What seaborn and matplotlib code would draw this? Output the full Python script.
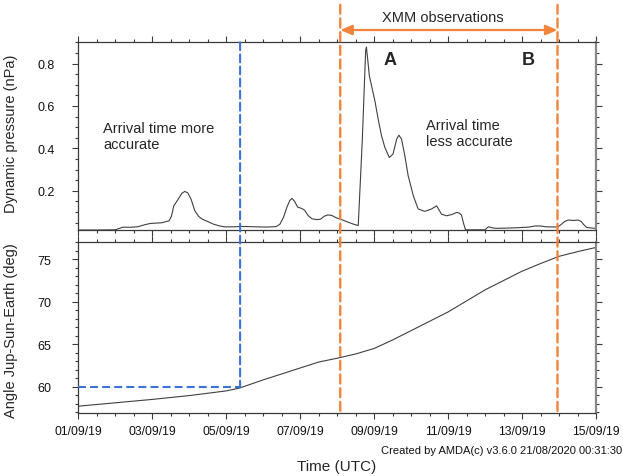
import numpy as np
import pandas as pd
import matplotlib
matplotlib.use("Agg")
import matplotlib.pyplot as plt
import matplotlib.dates as mdates
from matplotlib.patches import ConnectionPatch
import seaborn as sns

# ---------------- data ----------------
start_date = "2019-09-01"
end_date = "2019-09-15"

# dynamic pressure (days since start, nPa)
pdyn_days = [0.00, 0.50, 1.00, 1.10, 1.20, 1.40, 1.60, 1.80, 1.95, 2.25, 2.45, 2.52, 2.58, 2.70,
             2.80, 2.88, 2.96, 3.05, 3.15, 3.25, 3.35, 3.50, 3.65, 3.80, 3.95, 4.20, 4.40, 4.80,
             5.10, 5.35, 5.45, 5.55, 5.64, 5.72, 5.78, 5.85, 5.93, 6.05, 6.12, 6.22, 6.32, 6.45,
             6.55, 6.65, 6.75, 6.85, 6.98, 7.09, 7.25, 7.45, 7.57, 7.68, 7.77, 7.79, 7.82, 7.87,
             7.93, 8.02, 8.11, 8.20, 8.29, 8.41, 8.51, 8.61, 8.67, 8.74, 8.83, 8.92, 9.06, 9.19,
             9.37, 9.55, 9.69, 9.82, 9.96, 10.10, 10.23, 10.30, 10.36, 10.42, 10.47, 11.00, 11.05,
             11.10, 11.20, 11.30, 11.60, 11.90, 12.20, 12.35, 12.50, 12.65, 12.96, 13.05, 13.15,
             13.25, 13.40, 13.52, 13.60, 13.68, 13.75, 13.90, 14.00]
pdyn_vals = [0.015, 0.015, 0.016, 0.022, 0.028, 0.028, 0.030, 0.040, 0.046, 0.049, 0.058, 0.080,
             0.128, 0.160, 0.188, 0.197, 0.190, 0.160, 0.106, 0.080, 0.066, 0.055, 0.043, 0.035,
             0.030, 0.030, 0.032, 0.030, 0.029, 0.031, 0.042, 0.075, 0.122, 0.155, 0.164, 0.150,
             0.123, 0.116, 0.108, 0.082, 0.068, 0.064, 0.066, 0.080, 0.086, 0.084, 0.072, 0.066,
             0.055, 0.042, 0.036, 0.440, 0.860, 0.878, 0.830, 0.742, 0.695, 0.624, 0.537, 0.459,
             0.404, 0.357, 0.373, 0.444, 0.462, 0.444, 0.365, 0.271, 0.176, 0.114, 0.103, 0.114,
             0.129, 0.090, 0.082, 0.088, 0.098, 0.095, 0.086, 0.045, 0.016, 0.016, 0.025, 0.030,
             0.025, 0.023, 0.024, 0.026, 0.029, 0.034, 0.034, 0.030, 0.029, 0.040, 0.055, 0.062,
             0.060, 0.062, 0.055, 0.038, 0.027, 0.024, 0.023]

# Jupiter-Sun-Earth angle (days since start, deg)
angle_days = [0, 1, 2, 3, 4, 4.37, 5, 5.5, 6, 6.5, 7, 7.5, 8, 8.5, 9, 9.5, 10, 10.5, 11, 11.5,
              12, 12.5, 13, 13.5, 14]
angle_vals = [57.7, 58.1, 58.5, 58.95, 59.5, 59.85, 60.8, 61.5, 62.2, 62.9, 63.35, 63.85, 64.5,
              65.5, 66.6, 67.7, 68.8, 70.1, 71.4, 72.5, 73.6, 74.5, 75.35, 75.9, 76.4]

# annotation markers
blue_time = "2019-09-05 09:00"
blue_angle = 60
xmm_start = "2019-09-08 02:00"
xmm_end = "2019-09-13 23:00"

pdyn_ticks = [0.2, 0.4, 0.6, 0.8]
angle_ticks = [60, 65, 70, 75]

# ---------------- frames ----------------
t0 = pd.Timestamp(start_date)
df_p = pd.DataFrame({"time": t0 + pd.to_timedelta(pdyn_days, unit="D"), "pdyn": pdyn_vals})
df_a = pd.DataFrame({"time": t0 + pd.to_timedelta(angle_days, unit="D"), "angle": angle_vals})

sns.set_style("ticks")
plt.rcParams["font.family"] = ["Liberation Sans", "DejaVu Sans"]

BLUE = "#3D72D9"
ORANGE = "#F0843A"
LINE = "#404040"
SPINE = "#3a3a3a"

fig = plt.figure(figsize=(6.23, 4.77), dpi=100)
ax1 = fig.add_axes([0.1257, 0.5157, 0.831, 0.3935])
ax2 = fig.add_axes([0.1257, 0.1321, 0.831, 0.3578], sharex=ax1)

sns.lineplot(data=df_p, x="time", y="pdyn", ax=ax1, color=LINE, linewidth=0.8)
sns.lineplot(data=df_a, x="time", y="angle", ax=ax2, color=LINE, linewidth=0.8)

ax1.set_xlim(pd.Timestamp(start_date), pd.Timestamp(end_date))
ax1.set_ylim(0.015, 0.9)
ax2.set_ylim(56.9, 77.0)

ax1.set_yticks(pdyn_ticks)
ax1.set_yticklabels([f"{v:.1f}" for v in pdyn_ticks])
ax1.yaxis.set_minor_locator(matplotlib.ticker.MultipleLocator(0.05))
ax2.set_yticks(angle_ticks)
ax2.set_yticklabels([str(v) for v in angle_ticks])
ax2.yaxis.set_minor_locator(matplotlib.ticker.MultipleLocator(1))

ax2.xaxis.set_major_locator(mdates.DayLocator(interval=2, bymonthday=range(1, 32, 2)))
ax2.xaxis.set_minor_locator(mdates.HourLocator(byhour=[0, 12]))
ax2.xaxis.set_major_formatter(mdates.DateFormatter("%d/%m/%y"))

for ax in (ax1, ax2):
    for s in ax.spines.values():
        s.set_color(SPINE)
        s.set_linewidth(0.9)
    ax.spines["right"].set_color("#888888")
    ax.spines["right"].set_linewidth(1.6)
    ax.tick_params(which="both", direction="out", top=True, right=True, bottom=True, left=True,
                   color=SPINE, width=0.8)
    ax.tick_params(which="major", length=4.2)
    ax.tick_params(which="minor", length=2.0)
    ax.tick_params(axis="y", labelsize=9, pad=25, labelcolor="#111111")
    for lab in ax.get_yticklabels():
        lab.set_horizontalalignment("left")
    ax.set_xlabel("")
    ax.grid(False)

ax1.tick_params(axis="x", labelbottom=False)
ax2.tick_params(axis="x", labelsize=8.7, pad=4.5, labelcolor="#111111")

ax1.set_ylabel("Dynamic pressure (nPa)", fontsize=10.5)
ax2.set_ylabel("Angle Jup-Sun-Earth (deg)", fontsize=10.5)
ax1.yaxis.set_label_coords(-0.117, 0.52)
ax2.yaxis.set_label_coords(-0.117, 0.49)

fig.text(337 / 623, 1 - 467 / 477, "Time (UTC)", ha="center", va="center", fontsize=11)
fig.text(0.999, 1 - 451 / 477, "Created by AMDA(c) v3.6.0 21/08/2020 00:31:30",
         ha="right", va="center", fontsize=8.0, color="#111111")

# ---------------- annotations ----------------
ls = (0, (3.8, 2.0))
bt = pd.Timestamp(blue_time)
ax2.plot([pd.Timestamp(start_date), bt], [blue_angle, blue_angle], color=BLUE,
         linewidth=1.5, linestyle=ls, zorder=5)
cp = ConnectionPatch(xyA=(mdates.date2num(bt), 1.0), coordsA=ax1.get_xaxis_transform(),
                     xyB=(mdates.date2num(bt), blue_angle), coordsB=ax2.transData,
                     color=BLUE, linewidth=1.5, linestyle=ls, zorder=5)
fig.add_artist(cp)

for t in (xmm_start, xmm_end):
    xn = mdates.date2num(pd.Timestamp(t))
    cp = ConnectionPatch(xyA=(xn, 1.2), coordsA=ax1.get_xaxis_transform(),
                         xyB=(xn, 0.0), coordsB=ax2.get_xaxis_transform(),
                         color=ORANGE, linewidth=1.7, linestyle=ls, zorder=5)
    fig.add_artist(cp)

ax1.annotate("", xy=(mdates.date2num(pd.Timestamp(xmm_start)), 1.0655),
             xytext=(mdates.date2num(pd.Timestamp(xmm_end)), 1.0655),
             xycoords=ax1.get_xaxis_transform(), textcoords=ax1.get_xaxis_transform(),
             arrowprops=dict(arrowstyle="<|-|>,head_length=0.7,head_width=0.3",
                             color=ORANGE, linewidth=1.6, shrinkA=0, shrinkB=0,
                             mutation_scale=10), annotation_clip=False)
fig.text(443 / 623, 1 - 18 / 477, "XMM observations", ha="center", va="center", fontsize=10.5)

ax1.text(0.0477, 0.501, "Arrival time more\naccurate", transform=ax1.transAxes,
         ha="left", va="center", fontsize=10.5)
ax1.text(0.6716, 0.517, "Arrival time\nless accurate", transform=ax1.transAxes,
         ha="left", va="center", fontsize=10.5)
ax1.text(0.602, 0.908, "A", transform=ax1.transAxes, ha="center", va="center",
         fontsize=13, fontweight="bold")
ax1.text(0.869, 0.911, "B", transform=ax1.transAxes, ha="center", va="center",
         fontsize=13, fontweight="bold")

fig.savefig("out.png", dpi=100)
